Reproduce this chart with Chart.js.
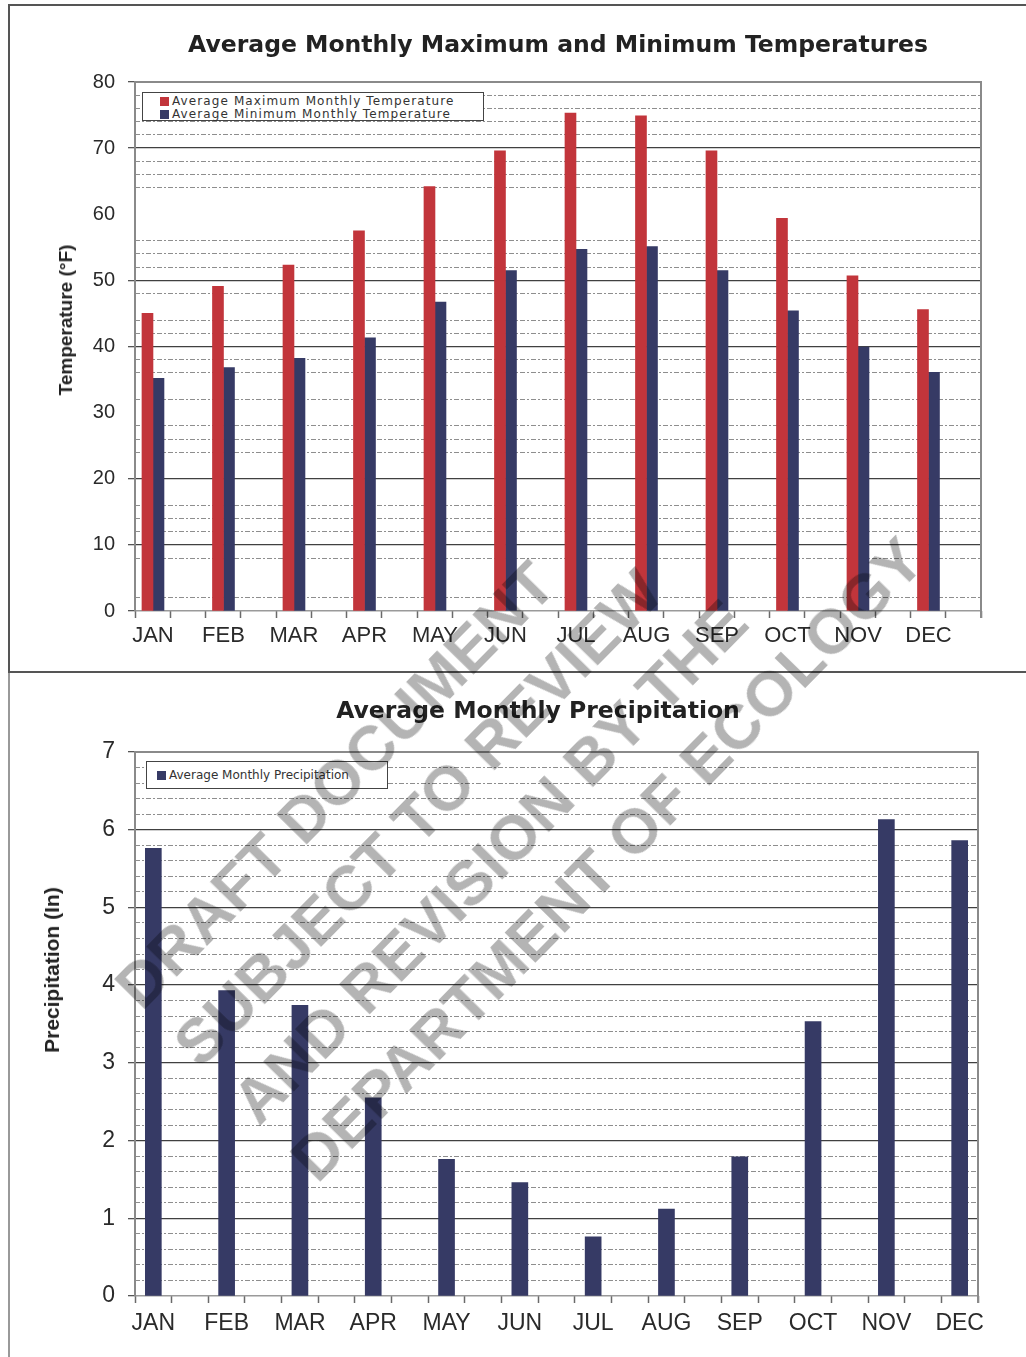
<!DOCTYPE html>
<html>
<head>
<meta charset="utf-8">
<script src="https://cdn.jsdelivr.net/npm/chart.js@4/dist/chart.umd.min.js"></script>
<style>
html,body{margin:0;padding:0;background:#fff;}
body{width:1026px;height:1357px;overflow:hidden;position:relative;font-family:"Liberation Sans",Arial,sans-serif;}
.line{position:absolute;background:#555;}
.wrap{position:absolute;}
.ctitle{position:absolute;transform:translate(-50%,-50%);font-family:"DejaVu Sans",sans-serif;font-weight:bold;font-size:23.5px;color:#222;white-space:nowrap;line-height:1;}
.legend{position:absolute;background:#fff;border:1px solid #444;font-family:"DejaVu Sans",sans-serif;font-size:12px;color:#333;box-sizing:border-box;}
.legend .row{position:relative;height:12.5px;line-height:12.5px;white-space:nowrap;}
.legend .sw{display:inline-block;width:9px;height:9px;margin-right:3px;vertical-align:-1px;}
.ytitle{position:absolute;font-weight:bold;color:#222;white-space:nowrap;transform:translate(-50%,-50%) rotate(-90deg);}
#wm{position:absolute;left:97px;top:968px;transform-origin:0 0;transform:rotate(-45.5deg);font-family:"Liberation Sans",Arial,sans-serif;font-weight:bold;font-size:63px;line-height:82px;color:#b4b4b4;white-space:nowrap;mix-blend-mode:multiply;pointer-events:none;}
</style>
</head>
<body>
<div class="line" style="left:8px;top:4px;width:1018px;height:2px;"></div>
<div class="line" style="left:8px;top:4px;width:2px;height:669px;"></div>
<div class="line" style="left:8px;top:671px;width:1018px;height:2px;"></div>
<div class="line" style="left:8px;top:673px;width:2px;height:684px;background:#999;"></div>

<div class="wrap" style="left:10px;top:7px;width:1016px;height:664px;"><canvas id="tempChart"></canvas></div>
<div class="wrap" style="left:10px;top:675px;width:1016px;height:682px;"><canvas id="precChart"></canvas></div>

<div class="ctitle" id="titleTemp" style="left:558px;top:45px;"></div>
<div class="ctitle" id="titlePrec" style="left:538px;top:711px;"></div>

<div class="ytitle" style="left:66px;top:320px;font-size:19px;">Temperature (°F)</div>
<div class="ytitle" style="left:52px;top:970px;font-size:21px;">Precipitation (In)</div>

<div class="legend" id="legTemp" style="left:142px;top:92px;width:342px;height:29px;padding:2px 0 0 17px;letter-spacing:1.1px;"></div>
<div class="legend" id="legPrec" style="left:146px;top:761px;width:242px;height:28px;padding:7px 0 0 10px;"></div>

<div id="wm">DRAFT DOCUMENT<br>SUBJECT TO REVIEW<br>AND REVISION BY THE<br>DEPARTMENT OF ECOLOGY</div>

<script>
// ---- data ----
const months = ['JAN','FEB','MAR','APR','MAY','JUN','JUL','AUG','SEP','OCT','NOV','DEC'];
const maxTemp = [45.0, 49.1, 52.3, 57.5, 64.2, 69.6, 75.3, 74.9, 69.6, 59.4, 50.7, 45.6];
const minTemp = [35.2, 36.8, 38.2, 41.3, 46.7, 51.5, 54.7, 55.1, 51.5, 45.4, 39.9, 36.1];
const precip  = [5.76, 3.93, 3.74, 2.55, 1.76, 1.46, 0.76, 1.12, 1.79, 3.53, 6.13, 5.86];
const tempTicks = [0, 10, 20, 30, 40, 50, 60, 70, 80];
const precTicks = [0, 1, 2, 3, 4, 5, 6, 7];
const tempTitle = 'Average Monthly Maximum and Minimum Temperatures';
const precTitle = 'Average Monthly Precipitation';
const maxLabel = 'Average Maximum Monthly Temperature';
const minLabel = 'Average Minimum Monthly Temperature';
const precLabel = 'Average Monthly Precipitation';
// grid lines that are faded out in the scanned original (temperature chart)
const tempFadedGrid = [4, 6, 18, 22, 30, 34, 46, 58, 60, 62];

// ---- styles ----
const RED = '#c2353b';
const NAVY = '#363a65';
const MAJOR = '#404040';
const MINOR = '#8e8e8e';
const AXIS = '#8a8a8a';

Chart.defaults.font.family = '"Liberation Sans", Arial, sans-serif';
Chart.defaults.color = '#2a2a2a';
Chart.defaults.animation = false;

document.getElementById('titleTemp').textContent = tempTitle;
document.getElementById('titlePrec').textContent = precTitle;

const frameBox = {
  id: 'frameBox',
  afterDatasetsDraw(chart) {
    const {ctx, chartArea: a} = chart;
    ctx.save();
    ctx.strokeStyle = AXIS;
    ctx.lineWidth = 2;
    ctx.beginPath();
    ctx.moveTo(a.left, a.top);
    ctx.lineTo(a.right, a.top);
    ctx.lineTo(a.right, a.bottom + 7);
    ctx.stroke();
    ctx.restore();
  }
};

function near(v, list) { return list.some(t => Math.abs(v - t) < 1e-6); }

function buildChart(id, cfg) {
  const xMin = cfg.xMin, xMax = cfg.xMax;
  return new Chart(document.getElementById(id), {
    type: 'bar',
    data: { datasets: cfg.datasets },
    options: {
      responsive: true,
      maintainAspectRatio: false,
      devicePixelRatio: 1,
      layout: { padding: { left: 0, right: cfg.padRight, top: cfg.padTop, bottom: 0 } },
      plugins: {
        legend: { display: false },
        tooltip: { enabled: false },
        title: { display: false }
      },
      scales: {
        xt: {
          type: 'linear', position: 'bottom', weight: 0, min: xMin, max: xMax, offset: false,
          afterBuildTicks(s) {
            const t = [];
            for (let k = 0; xMin + k * 0.5 <= xMax + 1e-6; k++) t.push({ value: xMin + k * 0.5 });
            s.ticks = t;
          },
          afterFit(s) { s.height = 0; },
          ticks: { display: false },
          grid: { offset: false, drawOnChartArea: false, drawTicks: true, tickLength: 7, tickColor: '#6a6a6a', tickWidth: 1.5 },
          border: { display: false }
        },
        x: {
          type: 'linear', position: 'bottom', weight: 1, min: xMin, max: xMax, offset: false,
          afterBuildTicks(s) { s.ticks = months.map((m, i) => ({ value: i })); },
          afterFit(s) { s.height = cfg.xAxisHeight; },
          ticks: {
            autoSkip: false, maxRotation: 0, padding: cfg.xPad,
            font: { size: cfg.xFont },
            callback: (v, i) => months[i]
          },
          grid: { offset: false, drawOnChartArea: false, drawTicks: false },
          border: { display: true, color: '#9a9a9a', width: 1.5 }
        },
        y: {
          position: 'left', weight: 1, min: 0, max: cfg.yMax,
          afterBuildTicks(s) { s.ticks = cfg.majorTicks.map(v => ({ value: v })); },
          afterFit(s) { s.width = 125; },
          ticks: { padding: cfg.yPad, font: { size: cfg.yFont } },
          grid: {
            color: c => near(c.tick.value, cfg.faded) || c.tick.value === 0 ? 'rgba(0,0,0,0)' : MAJOR,
            tickColor: c => near(c.tick.value, cfg.faded) ? 'rgba(0,0,0,0)' : '#555',
            lineWidth: 1.3, tickLength: 7, tickWidth: 1.3
          },
          border: { display: true, color: AXIS, width: 2 }
        },
        ym: {
          position: 'left', weight: 0, min: 0, max: cfg.yMax,
          afterBuildTicks(s) {
            const t = [];
            const n = Math.round(cfg.yMax / cfg.minorStep);
            for (let k = 0; k <= n; k++) t.push({ value: +(k * cfg.minorStep).toFixed(4) });
            s.ticks = t;
          },
          afterFit(s) { s.width = 0; },
          ticks: { display: false },
          grid: {
            drawTicks: false,
            color: c => {
              const v = c.tick.value;
              const major = Math.abs(v / cfg.majorStep - Math.round(v / cfg.majorStep)) < 1e-6;
              return (major || near(v, cfg.faded)) ? 'rgba(0,0,0,0)' : MINOR;
            },
            lineWidth: 1
          },
          border: { display: false, dash: [5, 2, 2, 2] }
        }
      }
    },
    plugins: [frameBox]
  });
}

const tempChart = buildChart('tempChart', {
  padTop: 75, padRight: 45,
  xMin: -0.255, xMax: 11.745,
  xAxisHeight: 60, xPad: 12, xFont: 22,
  yMax: 80, majorTicks: tempTicks, majorStep: 10, minorStep: 2,
  yPad: 13, yFont: 20,
  faded: tempFadedGrid,
  datasets: [
    { label: maxLabel, data: maxTemp.map((v, i) => ({ x: i, y: v })), backgroundColor: RED, barThickness: 11, xAxisID: 'x', yAxisID: 'y' },
    { label: minLabel, data: minTemp.map((v, i) => ({ x: i, y: v })), backgroundColor: NAVY, barThickness: 11, xAxisID: 'x', yAxisID: 'y' }
  ]
});

const precChart = buildChart('precChart', {
  padTop: 77, padRight: 48,
  xMin: -0.25, xMax: 11.25,
  xAxisHeight: 61, xPad: 14, xFont: 23,
  yMax: 7, majorTicks: precTicks, majorStep: 1, minorStep: 0.2,
  yPad: 13, yFont: 23,
  faded: [],
  datasets: [
    { label: precLabel, data: precip.map((v, i) => ({ x: i, y: v })), backgroundColor: NAVY, barThickness: 16, xAxisID: 'x', yAxisID: 'y' }
  ]
});

function fillLegend(el, chart) {
  chart.data.datasets.forEach(ds => {
    const row = document.createElement('div');
    row.className = 'row';
    const sw = document.createElement('span');
    sw.className = 'sw';
    sw.style.background = ds.backgroundColor;
    row.appendChild(sw);
    row.appendChild(document.createTextNode(ds.label));
    el.appendChild(row);
  });
}
fillLegend(document.getElementById('legTemp'), tempChart);
fillLegend(document.getElementById('legPrec'), precChart);
</script>
</body>
</html>
